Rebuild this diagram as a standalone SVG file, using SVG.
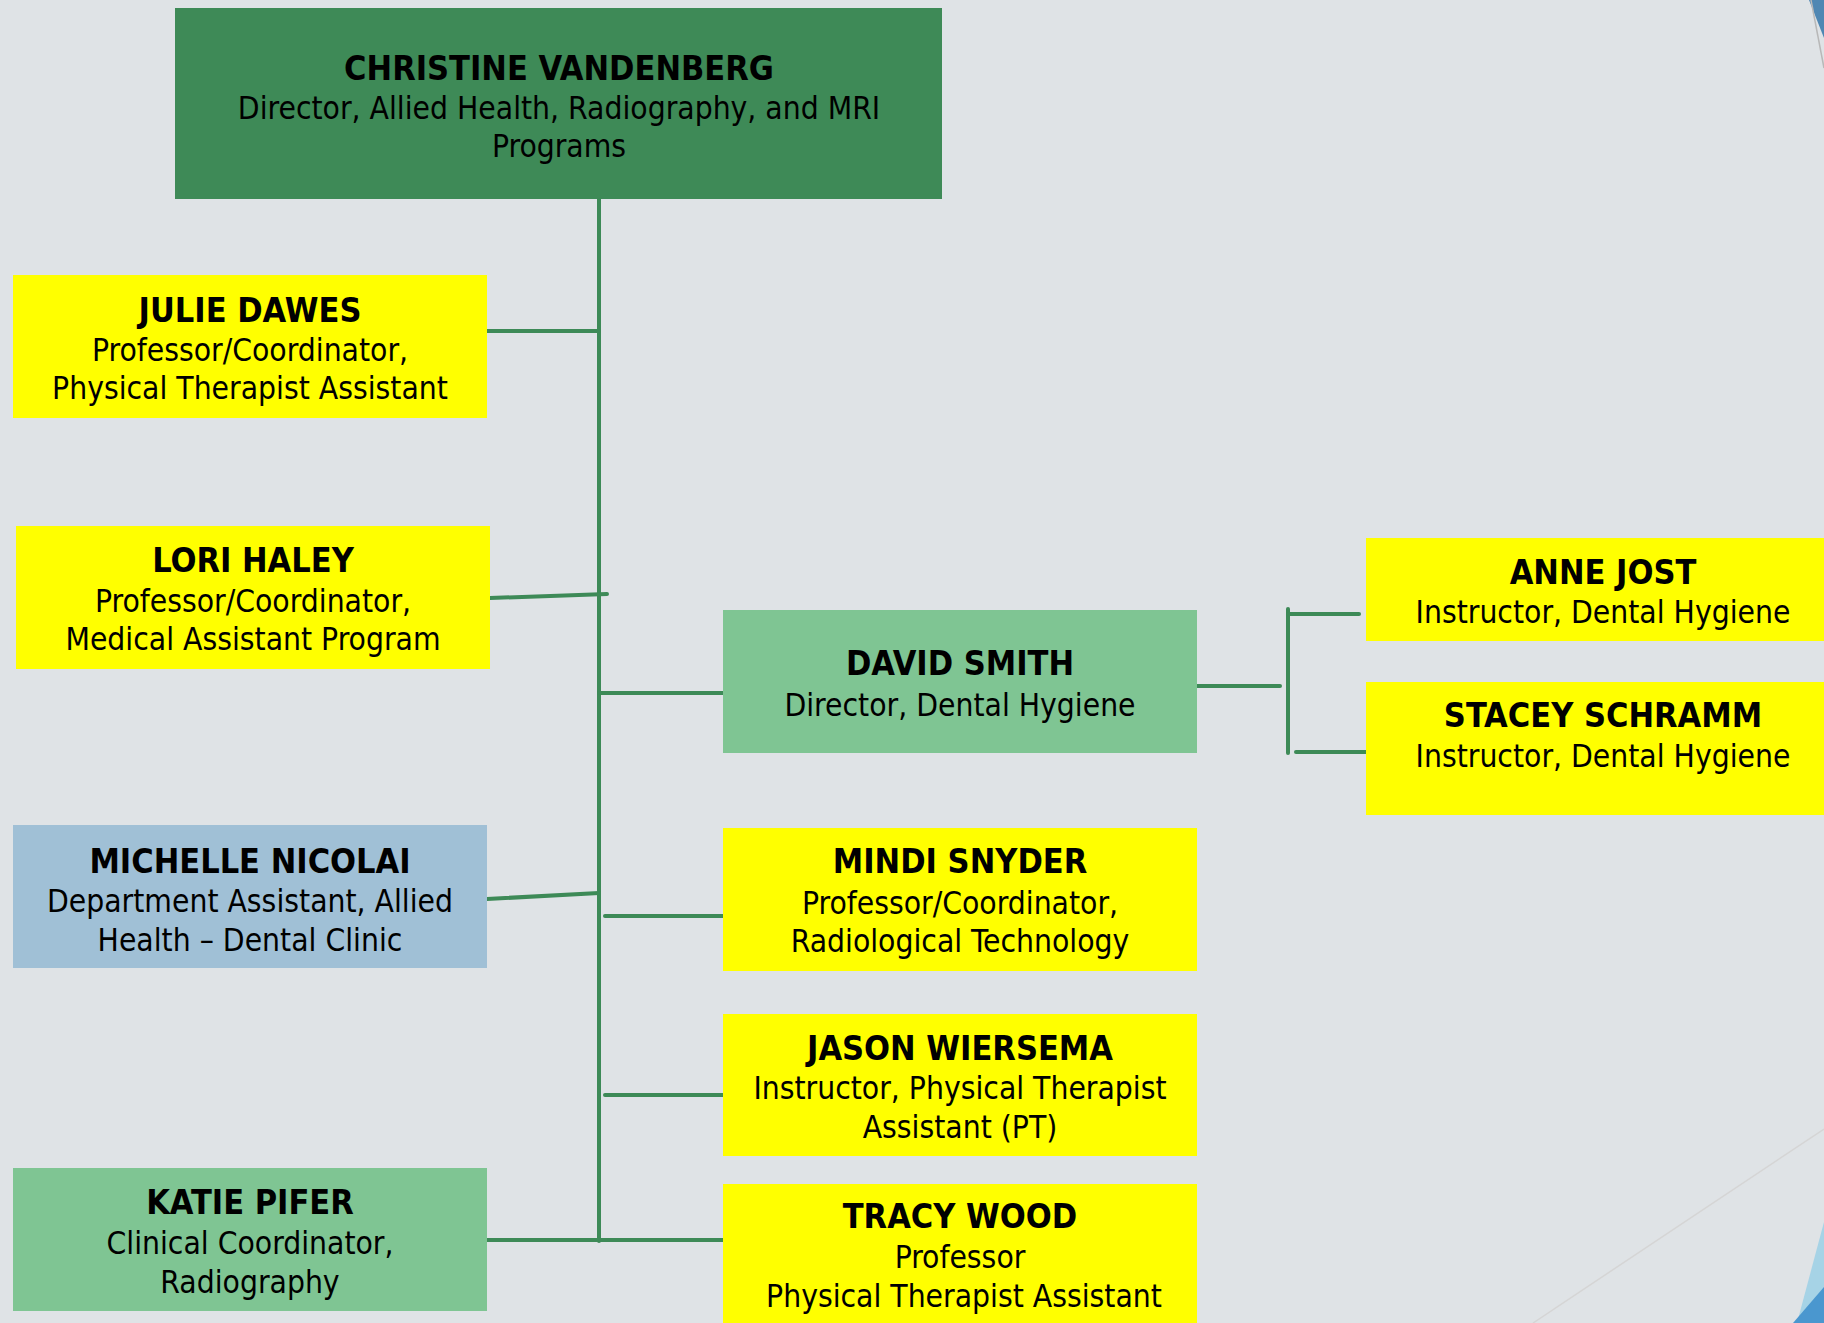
<svg xmlns="http://www.w3.org/2000/svg" width="1824" height="1323" viewBox="0 0 1824 1323">
  <style>
    text { font-family: "DejaVu Sans Condensed", "DejaVu Sans", "Liberation Sans", sans-serif; fill: #000; text-anchor: middle; }
    .name { font-size: 34px; font-weight: bold; }
    .role { font-size: 31.5px; }
    .yellow { fill: #ffff00; }
    .green { fill: #7fc593; }
    .dark { fill: #3e8a57; }
    .blue { fill: #a0c0d6; }
    .link { stroke: #3d8a57; stroke-width: 4; fill: none; stroke-linecap: round; }
  </style>

  <!-- slide background -->
  <rect x="0" y="0" width="1824" height="1323" fill="#dfe3e6"/>

  <!-- theme facets in the corners -->
  <g id="facets">
    <polygon points="1809,0 1824,0 1824,38" fill="#4f87b3"/>
    <line x1="1811" y1="0" x2="1824" y2="68" stroke="#b8b8b8" stroke-width="1.5"/>
    <line x1="1533" y1="1323" x2="1824" y2="1129" stroke="#d5d5d5" stroke-width="1.5"/>
    <polygon points="1797,1323 1824,1222 1824,1323" fill="#a6d3e6"/>
    <polygon points="1793,1323 1824,1287 1824,1323" fill="#4a97cf"/>
  </g>

  <!-- connectors -->
  <g id="connectors">
    <line class="link" x1="599" y1="199" x2="599" y2="1241"/>
    <line class="link" x1="487" y1="331" x2="599" y2="331"/>
    <line class="link" x1="490" y1="598" x2="607" y2="594"/>
    <line class="link" x1="599" y1="693" x2="724" y2="693"/>
    <line class="link" x1="487" y1="899" x2="599" y2="893"/>
    <line class="link" x1="605" y1="916" x2="736" y2="916"/>
    <line class="link" x1="605" y1="1095" x2="723" y2="1095"/>
    <line class="link" x1="487" y1="1240" x2="723" y2="1240"/>
    <line class="link" x1="1197" y1="686" x2="1280" y2="686"/>
    <line class="link" x1="1288" y1="609" x2="1288" y2="753"/>
    <line class="link" x1="1288" y1="614" x2="1359" y2="614"/>
    <line class="link" x1="1296" y1="752" x2="1367" y2="752"/>
  </g>

  <g id="christine-vandenberg">
    <rect class="dark" x="175" y="8" width="767" height="191"/>
    <text class="name" x="559" y="80">CHRISTINE VANDENBERG</text>
    <text class="role" x="559" y="119">Director, Allied Health, Radiography, and MRI</text>
    <text class="role" x="559" y="157">Programs</text>
  </g>

  <g id="julie-dawes">
    <rect class="yellow" x="13" y="275" width="474" height="143"/>
    <text class="name" x="250" y="322">JULIE DAWES</text>
    <text class="role" x="250" y="361">Professor/Coordinator,</text>
    <text class="role" x="250" y="399">Physical Therapist Assistant</text>
  </g>

  <g id="lori-haley">
    <rect class="yellow" x="16" y="526" width="474" height="143"/>
    <text class="name" x="253" y="572">LORI HALEY</text>
    <text class="role" x="253" y="612">Professor/Coordinator,</text>
    <text class="role" x="253" y="650">Medical Assistant Program</text>
  </g>

  <g id="michelle-nicolai">
    <rect class="blue" x="13" y="825" width="474" height="143"/>
    <text class="name" x="250" y="873">MICHELLE NICOLAI</text>
    <text class="role" x="250" y="912">Department Assistant, Allied</text>
    <text class="role" x="250" y="951">Health – Dental Clinic</text>
  </g>

  <g id="katie-pifer">
    <rect class="green" x="13" y="1168" width="474" height="143"/>
    <text class="name" x="250" y="1214">KATIE PIFER</text>
    <text class="role" x="250" y="1254">Clinical Coordinator,</text>
    <text class="role" x="250" y="1293">Radiography</text>
  </g>

  <g id="david-smith">
    <rect class="green" x="723" y="610" width="474" height="143"/>
    <text class="name" x="960" y="675">DAVID SMITH</text>
    <text class="role" x="960" y="716">Director, Dental Hygiene</text>
  </g>

  <g id="mindi-snyder">
    <rect class="yellow" x="723" y="828" width="474" height="143"/>
    <text class="name" x="960" y="873">MINDI SNYDER</text>
    <text class="role" x="960" y="914">Professor/Coordinator,</text>
    <text class="role" x="960" y="952">Radiological Technology</text>
  </g>

  <g id="jason-wiersema">
    <rect class="yellow" x="723" y="1014" width="474" height="142"/>
    <text class="name" x="960" y="1060">JASON WIERSEMA</text>
    <text class="role" x="960" y="1099">Instructor, Physical Therapist</text>
    <text class="role" x="960" y="1138">Assistant (PT)</text>
  </g>

  <g id="tracy-wood">
    <rect class="yellow" x="723" y="1184" width="474" height="145"/>
    <text class="name" x="960" y="1228">TRACY WOOD</text>
    <text class="role" x="960" y="1268">Professor</text>
    <text class="role" x="964" y="1307">Physical Therapist Assistant</text>
  </g>

  <g id="anne-jost">
    <rect class="yellow" x="1366" y="538" width="474" height="103"/>
    <text class="name" x="1603" y="584">ANNE JOST</text>
    <text class="role" x="1603" y="623">Instructor, Dental Hygiene</text>
  </g>

  <g id="stacey-schramm">
    <rect class="yellow" x="1366" y="682" width="474" height="133"/>
    <text class="name" x="1603" y="727">STACEY SCHRAMM</text>
    <text class="role" x="1603" y="767">Instructor, Dental Hygiene</text>
  </g>
</svg>
